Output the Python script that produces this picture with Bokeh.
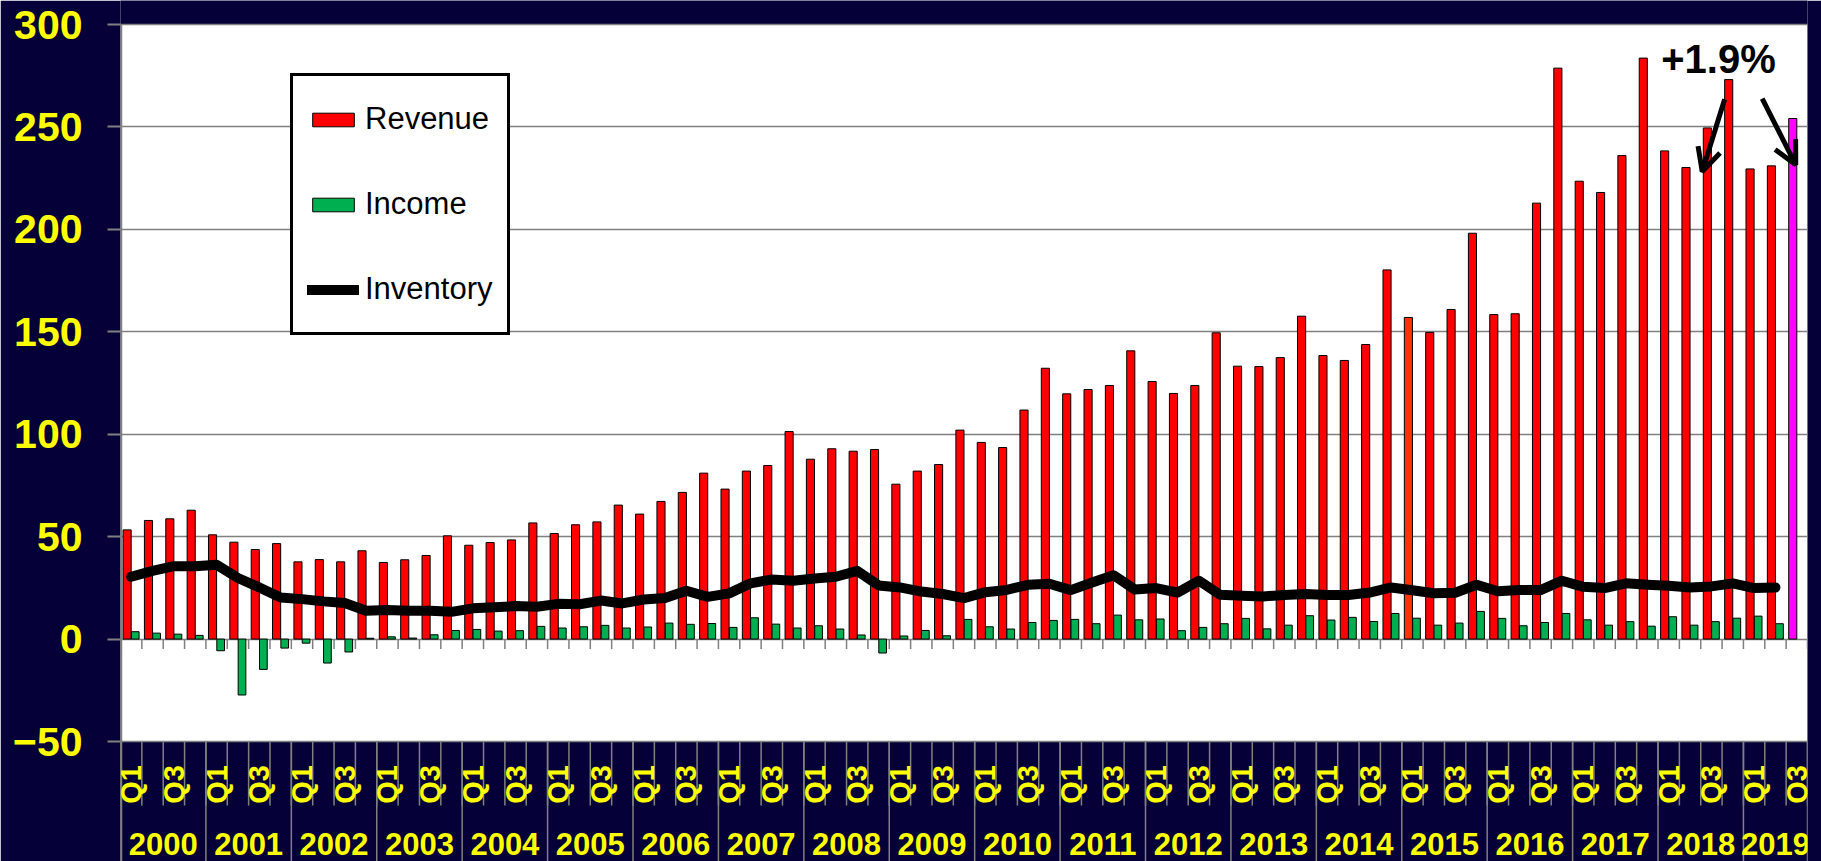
from bokeh.plotting import figure
from bokeh.models import (Range1d, FixedTicker, ColumnDataSource, Label,
                          Legend, LegendItem, Arrow, OpenHead)
from bokeh.core.properties import value
from bokeh.embed import file_html
from bokeh.resources import INLINE

# ---------------- data ----------------
years = list(range(2000, 2020))
quarters = ["Q1", "Q2", "Q3", "Q4"]
periods = [(y, q) for y in years for q in quarters][:79]   # 2000 Q1 .. 2019 Q3

revenue = [53.3, 57.9, 58.7, 62.9, 50.9, 47.3, 43.7, 46.6, 37.7, 38.8, 37.7, 43.1,
           37.4, 38.7, 40.8, 50.4, 45.8, 47.1, 48.4, 56.7, 51.5, 55.8, 57.2, 65.4,
           61.0, 67.2, 71.6, 81.0, 73.2, 82.0, 84.7, 101.3, 87.8, 92.9, 91.7, 92.5,
           75.6, 82.0, 85.2, 102.0, 96.0, 93.5, 111.8, 132.2, 119.7, 121.8, 123.8, 140.7,
           125.7, 119.9, 123.8, 149.5, 133.2, 133.0, 137.4, 157.6, 138.4, 136.0, 143.8, 180.2,
           157.0, 149.7, 160.9, 198.1, 158.4, 158.8, 212.8, 278.7, 223.5, 218.0, 236.0, 283.6,
           238.3, 230.2, 249.5, 273.1, 229.5, 231.0, 254.1]

income = [3.6, 2.9, 2.4, 1.8, -5.7, -27.3, -14.8, -4.4, -2.0, -11.7, -6.3, 0.4,
          1.1, 0.5, 2.1, 4.2, 4.7, 3.9, 4.1, 6.2, 5.4, 6.0, 6.7, 5.4,
          5.9, 7.8, 7.2, 7.6, 5.7, 10.4, 7.3, 5.4, 6.5, 4.9, 2.0, -6.8,
          1.5, 4.2, 1.6, 9.6, 6.0, 4.9, 8.1, 9.1, 9.6, 7.5, 11.7, 9.4,
          9.8, 4.1, 5.7, 7.5, 10.1, 5.0, 6.8, 11.4, 9.3, 10.6, 8.6, 12.5,
          10.2, 6.8, 7.8, 13.5, 10.1, 6.5, 8.1, 12.5, 9.4, 6.8, 8.5, 6.3,
          10.9, 6.8, 8.5, 10.2, 11.2, 7.5]

inventory = [30.4, 33.3, 35.6, 35.5, 36.3, 29.8, 25.2, 20.3, 19.5, 18.4, 17.6, 13.8,
             14.2, 13.8, 13.8, 13.3, 15.0, 15.5, 16.1, 15.8, 17.2, 17.0, 18.8, 17.4,
             19.3, 20.0, 23.6, 20.6, 22.3, 27.2, 29.1, 28.5, 29.6, 30.4, 33.3, 26.2,
             25.2, 23.2, 22.0, 20.0, 22.9, 24.0, 26.5, 27.0, 23.9, 27.6, 31.2, 24.2,
             24.9, 22.7, 28.5, 21.6, 21.1, 20.8, 21.5, 22.0, 21.5, 21.5, 22.7, 25.2,
             23.8, 22.4, 22.6, 26.5, 23.3, 23.9, 23.9, 28.5, 25.5, 24.9, 27.2, 26.5,
             26.0, 25.2, 25.7, 27.2, 24.9, 25.2]

special_bars = {("2015", "Q1"): "#FF3300", ("2019", "Q3"): "#FF00FF"}
annotation_text = "+1.9%"
title_text = "$ Billions"
y_ticks = [-50, 0, 50, 100, 150, 200, 250, 300]

# ---------------- style ----------------
NAVY = "#050038"
YELLOW = "#FFFF00"
GREY = "#808080"
RED = "#FF0000"
GREEN = "#00B050"
FONT = "Liberation Sans"

W, H = 1821, 861
ML, MR = 120, 14             # left / right borders of the frame
TOP_PX, BOTTOM_PX = 24, 741  # plot area (white) top / bottom in canvas pixels
YMIN, YMAX = y_ticks[0], y_ticks[-1]
PPU = (BOTTOM_PX - TOP_PX) / (YMAX - YMIN)     # pixels per data unit
YTOP = YMAX + TOP_PX / PPU                      # frame spans the whole canvas height
YLOW = YMIN - (H - BOTTOM_PX) / PPU

n = len(periods)
idx = list(range(n))
rev_colors = [special_bars.get((str(y), q), RED) for (y, q) in periods]

p = figure(width=W, height=H, x_range=Range1d(-0.5, n - 0.5), y_range=Range1d(YLOW, YTOP),
           output_backend="svg", toolbar_location=None, x_axis_location=None,
           min_border_left=ML, min_border_top=0, min_border_right=MR, min_border_bottom=0)
p.border_fill_color = NAVY
p.background_fill_color = NAVY
p.outline_line_color = None

# white plot area
p.quad(left=-0.5, right=n - 0.5, bottom=YMIN, top=YMAX, fill_color="white",
       line_color=None, level="image")

# y axis
p.yaxis.ticker = FixedTicker(ticks=y_ticks)
p.yaxis.major_label_text_font = FONT
p.yaxis.major_label_text_font_style = "bold"
p.yaxis.major_label_text_font_size = "41px"
p.yaxis.major_label_text_color = YELLOW
p.yaxis.major_label_standoff = 25
p.yaxis.major_tick_out = 13
p.yaxis.major_tick_in = 0
p.yaxis.minor_tick_line_color = None
p.yaxis.axis_line_color = None
p.yaxis.major_tick_line_color = GREY
p.yaxis.major_tick_line_width = 2

p.xgrid.visible = False
p.ygrid.ticker = FixedTicker(ticks=y_ticks)
p.ygrid.grid_line_color = GREY
p.ygrid.grid_line_width = 1.5

# left border line of plot and label area
p.segment(x0=[-0.5], x1=[-0.5], y0=[YLOW], y1=[YMAX], line_color=GREY, line_width=3.5)

# category separators below the plot area
boundaries = [i - 0.5 for i in range(n + 1)]
year_bounds = [i - 0.5 for i in range(0, n, 4)] + [n - 0.5]
q_sep_end = YMIN - 64 / PPU
p.segment(x0=boundaries, x1=boundaries, y0=[YMIN] * len(boundaries),
          y1=[q_sep_end] * len(boundaries), line_color=GREY, line_width=1.5)
p.segment(x0=year_bounds, x1=year_bounds, y0=[YMIN] * len(year_bounds),
          y1=[YLOW] * len(year_bounds), line_color=GREY, line_width=1.5)

# tick marks on the zero line
tick_len = 10 / PPU
p.segment(x0=boundaries, x1=boundaries, y0=[0] * len(boundaries),
          y1=[-tick_len] * len(boundaries), line_color=GREY, line_width=1.5)

# bars
rev_src = ColumnDataSource(dict(x=[i - 0.19 for i in idx], top=revenue, color=rev_colors))
r_rev = p.vbar(x="x", top="top", bottom=0, width=0.38, source=rev_src,
               fill_color="color", line_color="black", line_width=1)
inc_src = ColumnDataSource(dict(x=[i + 0.19 for i in idx[:len(income)]], top=income))
r_inc = p.vbar(x="x", top="top", bottom=0, width=0.36, source=inc_src,
               fill_color=GREEN, line_color="black", line_width=1)
r_inv = p.line(idx[:len(inventory)], inventory, line_color="black", line_width=10,
               line_join="round", line_cap="round")

# legend
legend = Legend(items=[LegendItem(label="Revenue", renderers=[r_rev], index=0),
                       LegendItem(label="Income", renderers=[r_inc]),
                       LegendItem(label="Inventory", renderers=[r_inv])],
                location=(170, 526))
legend.label_text_font = FONT
legend.label_text_font_size = "31px"
legend.label_text_color = "black"
legend.glyph_width = 52
legend.glyph_height = 17
legend.label_height = 58
legend.spacing = 27
legend.padding = 14
legend.label_standoff = 6
legend.border_line_color = "black"
legend.border_line_alpha = 1.0
legend.border_line_width = 3
legend.background_fill_color = "white"
legend.background_fill_alpha = 1
legend.margin = 0
p.add_layout(legend, "center")

# category labels below the plot area
q_idx = [i for i, (y, q) in enumerate(periods) if q in ("Q1", "Q3")]
q_src = ColumnDataSource(dict(x=q_idx, y=[YMIN - 43 / PPU] * len(q_idx),
                              text=[periods[i][1] for i in q_idx]))
p.text(x="x", y="y", text="text", source=q_src, angle=1.5708,
       text_align="center", text_baseline="middle",
       text_font=value(FONT), text_font_style="bold",
       text_font_size="29px", text_color=YELLOW)

yr_x = []
for y in years:
    members = [i for i, (yy, q) in enumerate(periods) if yy == y]
    yr_x.append(sum(members) / len(members))
yr_src = ColumnDataSource(dict(x=yr_x, y=[YMIN - 102 / PPU] * len(years),
                               text=[str(y) for y in years]))
p.text(x="x", y="y", text="text", source=yr_src,
       text_align="center", text_baseline="middle",
       text_font=value(FONT), text_font_style="bold",
       text_font_size="31px", text_color=YELLOW)

# title (mostly cut off at the top, as in the original)
p.text(x=[0.76], y=[YMAX + 19 / PPU], text=[title_text], text_align="left",
       text_baseline="bottom", text_font=value(FONT), text_font_style="bold",
       text_font_size="41px", text_color=YELLOW)

# annotation
p.add_layout(Label(x=74.33, y=283.2, text=annotation_text, text_font=FONT,
                   text_font_style="bold", text_font_size="40px", text_color="black",
                   text_align="center", text_baseline="middle"))
for (xs, ys, xe, ye) in [(74.62, 263.5, 73.57, 228.2), (76.38, 263.8, 77.95, 231.5)]:
    p.add_layout(Arrow(x_start=xs, y_start=ys, x_end=xe, y_end=ye, line_width=5,
                       line_color="black",
                       end=OpenHead(size=23, line_width=5, line_color="black")))

open("out.html", "w").write(file_html(p, INLINE))
